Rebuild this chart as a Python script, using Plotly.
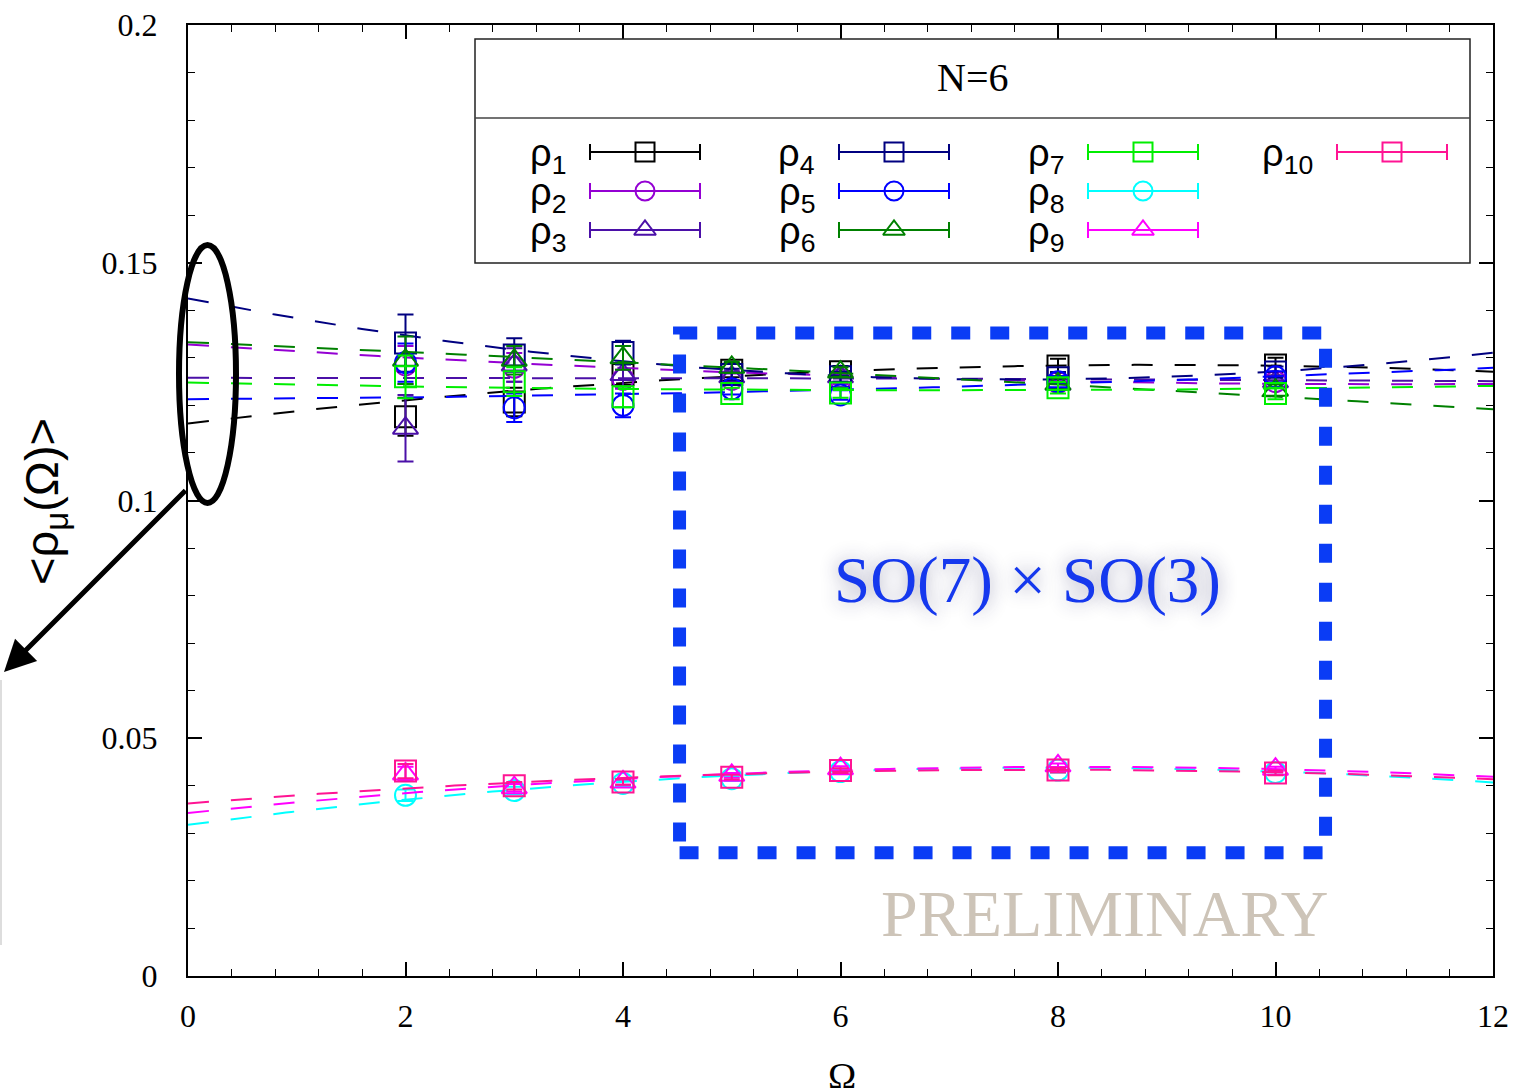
import numpy as np
import plotly.graph_objects as go

# ---------------- data ----------------
omega = [2, 3, 4, 5, 6, 8, 10]

rho1 = [0.1176, 0.1207, 0.1265, 0.1274, 0.1271, 0.1283, 0.1285]
rho2 = [0.1285, 0.1280, 0.1255, 0.1255, 0.1255, 0.1248, 0.1250]
rho3 = [0.1152, 0.1285, 0.1265, 0.1260, 0.1260, 0.1245, 0.1250]
rho4 = [0.1331, 0.1306, 0.1311, 0.1265, 0.1260, 0.1258, 0.1270]
rho5 = [0.1290, 0.1195, 0.1200, 0.1235, 0.1222, 0.1250, 0.1260]
rho6 = [0.1295, 0.1295, 0.1300, 0.1280, 0.1270, 0.1245, 0.1232]
rho7 = [0.1260, 0.1250, 0.1218, 0.1225, 0.1226, 0.1237, 0.1225]
rho8 = [0.0380, 0.0390, 0.0405, 0.0415, 0.0430, 0.0433, 0.0428]
rho9 = [0.0425, 0.0396, 0.0408, 0.0422, 0.0436, 0.0442, 0.0435]
rho10 = [0.0431, 0.0400, 0.0408, 0.0418, 0.0432, 0.0433, 0.0427]

err1 = [0.0040, 0.0030, 0.0022, 0.0015, 0.0012, 0.0015, 0.0015]
err2 = [0.0040, 0.0030, 0.0020, 0.0012, 0.0010, 0.0012, 0.0012]
err3 = [0.0070, 0.0035, 0.0025, 0.0012, 0.0010, 0.0012, 0.0012]
err4 = [0.0060, 0.0035, 0.0025, 0.0012, 0.0010, 0.0012, 0.0012]
err5 = [0.0040, 0.0030, 0.0025, 0.0012, 0.0010, 0.0012, 0.0012]
err6 = [0.0050, 0.0030, 0.0025, 0.0012, 0.0010, 0.0012, 0.0012]
err7 = [0.0045, 0.0030, 0.0022, 0.0012, 0.0010, 0.0012, 0.0012]
err8 = [0.0012, 0.0008, 0.0006, 0.0005, 0.0005, 0.0005, 0.0005]
err9 = [0.0015, 0.0008, 0.0006, 0.0005, 0.0005, 0.0005, 0.0005]
err10 = [0.0015, 0.0008, 0.0006, 0.0005, 0.0005, 0.0005, 0.0005]

# fitted dashed curves: value of each fit at Omega = 0, 6, 12
fit_nodes = [0, 6, 12]
fit1 = [0.1162, 0.1272, 0.1271]
fit2 = [0.1328, 0.1262, 0.1245]
fit3 = [0.1258, 0.1257, 0.1251]
fit4 = [0.1425, 0.1262, 0.1311]
fit5 = [0.1213, 0.1233, 0.1279]
fit6 = [0.1333, 0.1268, 0.1192]
fit7 = [0.1248, 0.1232, 0.1241]
fit8 = [0.0318, 0.0431, 0.0407]
fit9 = [0.0343, 0.0433, 0.0419]
fit10 = [0.0363, 0.0430, 0.0414]

labels = ["ρ<sub>%d</sub>" % i for i in range(1, 11)]
x_ticks = [0, 2, 4, 6, 8, 10, 12]
y_ticks = [0, 0.05, 0.1, 0.15, 0.2]
y_ticktext = ["0", "0.05", "0.1", "0.15", "0.2"]

values = [rho1, rho2, rho3, rho4, rho5, rho6, rho7, rho8, rho9, rho10]
errors = [err1, err2, err3, err4, err5, err6, err7, err8, err9, err10]
fits = [fit1, fit2, fit3, fit4, fit5, fit6, fit7, fit8, fit9, fit10]

colors = ["#000000", "#9400d3", "#4b10a8", "#000080", "#0000ff",
          "#008000", "#00ee00", "#00ffff", "#ff00ff", "#ff1493"]
symbols = ["square-open", "circle-open", "triangle-up-open"] * 3 + ["square-open"]

# ---------------- layout geometry (pixels) ----------------
W, H = 1534, 1088
PL, PR, PT, PB = 188, 1493, 25, 976


def pxx(p):
    return (p - PL) / (PR - PL)


def pxy(p):
    return (PB - p) / (PB - PT)


SERIF = "Liberation Serif"
SANS = "Liberation Sans"

fig = go.Figure()

xf = np.linspace(0, 12, 241)
for i in range(10):
    coef = np.polyfit(fit_nodes, fits[i], 2)
    fig.add_trace(go.Scatter(
        x=xf, y=np.polyval(coef, xf), mode="lines",
        line=dict(color=colors[i], width=2, dash="21px,22px"),
        hoverinfo="skip", showlegend=False))
    fig.add_trace(go.Scatter(
        x=omega, y=values[i], mode="markers",
        marker=dict(symbol=symbols[i], size=21 if i % 3 != 2 or i == 9 else 22,
                    color=colors[i], line=dict(width=2, color=colors[i])),
        error_y=dict(type="data", array=errors[i], visible=True,
                     color=colors[i], thickness=2, width=8),
        name=labels[i], showlegend=False))

# ---------------- custom key (gnuplot style) ----------------
col_label_x = [568, 817, 1066, 1315]
col_sample_x = [645, 894, 1143, 1392]
row_y = [152, 191, 230]
key_pos = []
for i in range(10):
    c, r = i // 3, i % 3
    key_pos.append((col_label_x[c], col_sample_x[c], row_y[r]))

for i, (lx, sx, sy) in enumerate(key_pos):
    fig.add_trace(go.Scatter(
        x=[sx], y=[sy], xaxis="x2", yaxis="y2", mode="markers",
        marker=dict(symbol=symbols[i], size=19, color=colors[i],
                    line=dict(width=2, color=colors[i])),
        error_x=dict(type="constant", value=55, visible=True,
                     color=colors[i], thickness=2, width=8),
        hoverinfo="skip", showlegend=False))

shapes = []
annotations = []

# key box
shapes.append(dict(type="rect", xref="paper", yref="paper",
                   x0=pxx(475), x1=pxx(1470), y0=pxy(263), y1=pxy(39),
                   line=dict(color="#222222", width=1.5), layer="above"))
shapes.append(dict(type="line", xref="paper", yref="paper",
                   x0=pxx(475), x1=pxx(1470), y0=pxy(118), y1=pxy(118),
                   line=dict(color="#444444", width=1.5)))
annotations.append(dict(text="N=6", xref="paper", yref="paper",
                        x=pxx(972), y=pxy(77), showarrow=False,
                        font=dict(family=SERIF, size=40, color="black"),
                        xanchor="center", yanchor="middle"))
for i, (lx, sx, sy) in enumerate(key_pos):
    annotations.append(dict(text=labels[i], xref="paper", yref="paper",
                            x=pxx(lx), y=pxy(sy + 4), showarrow=False,
                            font=dict(family=SANS, size=38, color="black"),
                            xanchor="right", yanchor="middle"))

# blue dashed box
shapes.append(dict(type="rect", xref="x", yref="y",
                   x0=4.52, x1=10.46, y0=0.0259, y1=0.1352,
                   line=dict(color="#0a3cf5", width=13, dash="19px,20px"),
                   layer="above"))

# ellipse around the extrapolated values
shapes.append(dict(type="circle", xref="paper", yref="paper",
                   x0=pxx(179), x1=pxx(236), y0=pxy(503), y1=pxy(245),
                   line=dict(color="black", width=6)))

# faint vertical line at left edge
shapes.append(dict(type="line", xref="paper", yref="paper",
                   x0=pxx(1), x1=pxx(1), y0=pxy(945), y1=pxy(680),
                   line=dict(color="#bbbbbb", width=1)))

# arrow
annotations.append(dict(text="", xref="paper", yref="paper",
                        x=pxx(4), y=pxy(672), ax=183, ay=-183,
                        showarrow=True, arrowhead=2, arrowsize=1.25,
                        arrowwidth=5, arrowcolor="black"))

annotations.append(dict(text="SO(7) × SO(3)", xref="x", yref="y",
                        x=7.72, y=0.0833, showarrow=False,
                        font=dict(family=SERIF, size=65, color="#1538ee",
                                  shadow="0px 0px 18px rgba(30,30,90,0.45)"),
                        xanchor="center", yanchor="middle"))
annotations.append(dict(text="PRELIMINARY", xref="x", yref="y",
                        x=8.43, y=0.0132, showarrow=False,
                        font=dict(family=SERIF, size=66, color="#cdc4b8"),
                        xanchor="center", yanchor="middle"))

# axis titles
annotations.append(dict(text="Ω", xref="paper", yref="paper",
                        x=pxx(842), y=pxy(1076), showarrow=False,
                        font=dict(family=SERIF, size=38, color="black"),
                        xanchor="center", yanchor="middle"))
annotations.append(dict(text="&lt;ρ<sub>μ</sub>(Ω)&gt;", xref="paper", yref="paper",
                        x=pxx(45), y=pxy(502), showarrow=False, textangle=-90,
                        font=dict(family=SANS, size=47, color="black"),
                        xanchor="center", yanchor="middle"))

axis_common = dict(showline=True, linecolor="black", linewidth=2,
                   mirror="allticks", ticks="inside", ticklen=14, tickwidth=1.5,
                   tickcolor="black", showgrid=False, zeroline=False,
                   automargin=False,
                   tickfont=dict(family=SERIF, size=32, color="black"))

fig.update_layout(
    width=W, height=H,
    margin=dict(l=PL, r=W - PR, t=PT, b=H - PB, pad=0, autoexpand=False),
    paper_bgcolor="white", plot_bgcolor="white",
    showlegend=False,
    xaxis=dict(range=[0, 12], tickvals=x_ticks, ticktext=[str(v) for v in x_ticks],
               ticklabelstandoff=11,
               minor=dict(ticks="inside", ticklen=7, dtick=0.4, tickcolor="black",
                          tickwidth=1, showgrid=False),
               **axis_common),
    yaxis=dict(range=[0, 0.2], tickvals=y_ticks, ticktext=y_ticktext,
               ticklabelstandoff=22,
               minor=dict(ticks="inside", ticklen=7, dtick=0.01, tickcolor="black",
                          tickwidth=1, showgrid=False),
               **axis_common),
    xaxis2=dict(overlaying="x", range=[PL, PR], visible=False, fixedrange=True,
                automargin=False),
    yaxis2=dict(overlaying="y", range=[PB, PT], visible=False, fixedrange=True,
                automargin=False),
    shapes=shapes,
    annotations=annotations,
)

fig.write_html("out.html")
